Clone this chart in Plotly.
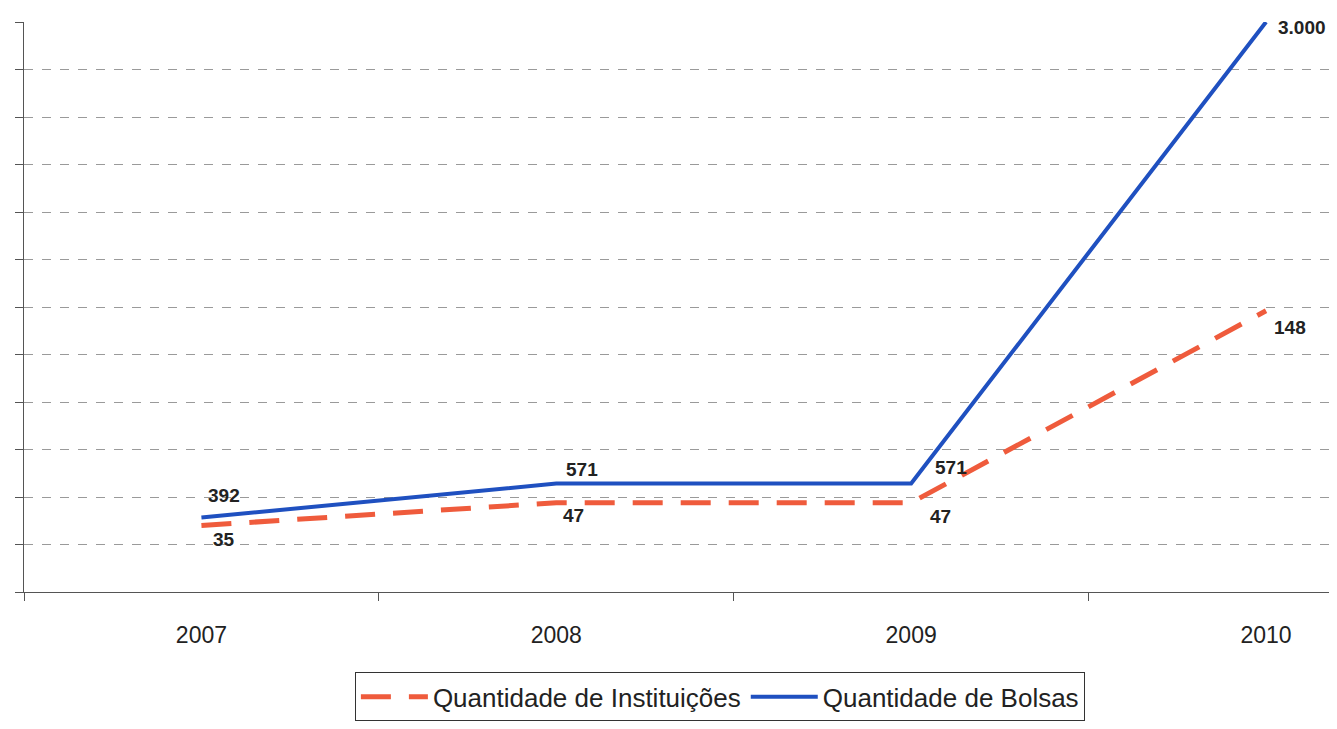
import plotly.graph_objects as go

anos = ["2007", "2008", "2009", "2010"]
bolsas = [392, 571, 571, 3000]
instituicoes = [35, 47, 47, 148]

# label offsets in pixels (dx, dy) relative to each point
desloc_bolsas = [(23, -22), (26, -14), (40, -16), (36, 5)]
desloc_inst = [(23, 14), (17, 13), (29, 14), (24, 17)]


def fmt(v):
    return f"{v:,}".replace(",", ".")


fig = go.Figure()
fig.add_trace(go.Scatter(
    x=anos, y=instituicoes, name="Quantidade de Instituições", yaxis="y2",
    mode="lines", line=dict(color="#EF5B3C", width=5, dash="30px,18px"),
    cliponaxis=False,
))
fig.add_trace(go.Scatter(
    x=anos, y=bolsas, name="Quantidade de Bolsas",
    mode="lines", line=dict(color="#1F50C0", width=4),
    cliponaxis=False,
))

rotulo_font = dict(family="Arial", size=19, color="#222222")
anots = []
for i, (v, (dx, dy)) in enumerate(zip(bolsas, desloc_bolsas)):
    anots.append(dict(x=i, y=v, xref="x", yref="y", text="<b>" + fmt(v) + "</b>",
                      showarrow=False, xshift=dx, yshift=-dy, font=rotulo_font))
for i, (v, (dx, dy)) in enumerate(zip(instituicoes, desloc_inst)):
    anots.append(dict(x=i, y=v, xref="x", yref="y2", text="<b>" + fmt(v) + "</b>",
                      showarrow=False, xshift=dx, yshift=-dy, font=rotulo_font))

fig.update_layout(
    annotations=anots,
    width=1337, height=729,
    margin=dict(l=16, r=8, t=14, b=145),
    paper_bgcolor="white", plot_bgcolor="white",
    font=dict(family="Arial", color="#222222"),
    xaxis=dict(
        type="category", range=[-0.5, 3.2], tickson="boundaries", automargin=False,
        ticks="outside", ticklen=8, tickcolor="#555555",
        showline=True, linecolor="#555555", linewidth=1,
        showgrid=False, tickfont=dict(size=23, family="Arial", color="#222222"),
        ticklabelstandoff=22,
    ),
    yaxis=dict(
        range=[0, 3000], dtick=250, showticklabels=False, automargin=False,
        showgrid=True, gridcolor="#9a9a9a", griddash="dash", gridwidth=1,
        showline=True, linecolor="#555555", linewidth=1,
        ticks="outside", ticklen=8, tickcolor="#555555", zeroline=False,
    ),
    yaxis2=dict(
        range=[0, 300], overlaying="y", side="right", visible=False,
        showgrid=False, zeroline=False, automargin=False,
    ),
    legend=dict(
        orientation="h", x=0.53, xanchor="center", y=-0.184, yanchor="middle",
        bordercolor="#333333", borderwidth=1, itemwidth=67,
        font=dict(size=26, family="Arial", color="#222222"),
        traceorder="normal",
    ),
    showlegend=True,
)

fig.write_html("out.html")
